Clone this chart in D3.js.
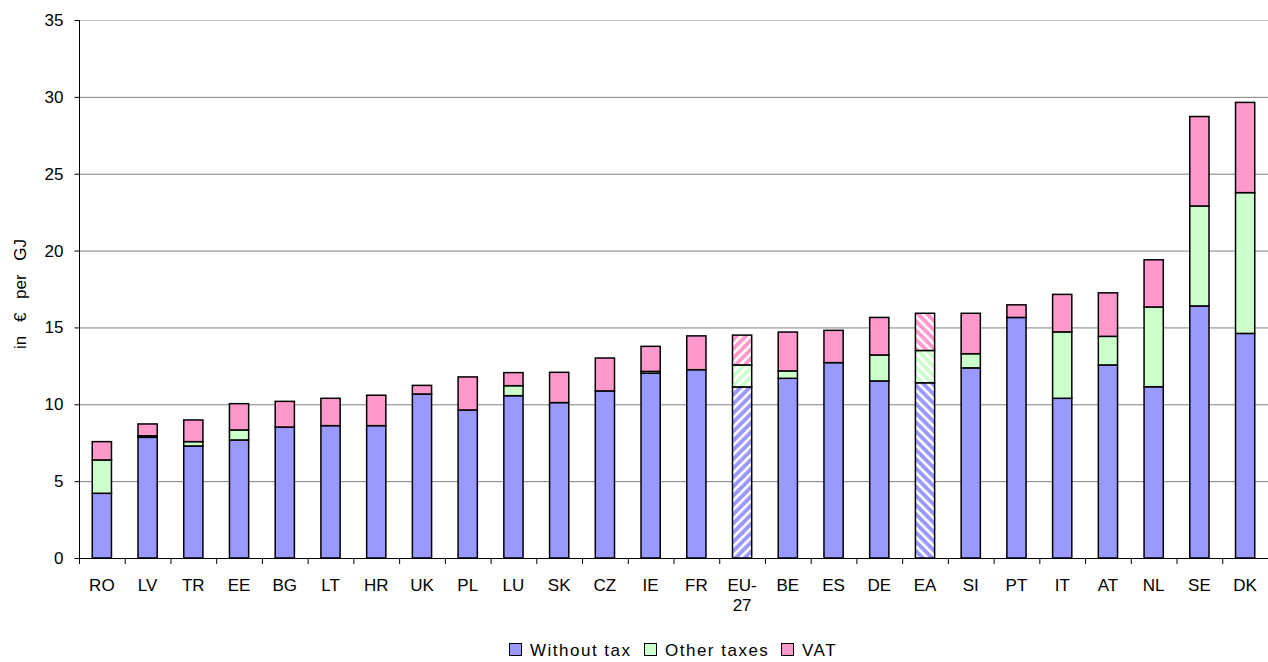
<!DOCTYPE html>
<html>
<head>
<meta charset="utf-8">
<script src="https://cdn.jsdelivr.net/npm/d3@7"></script>
<style>
  body { margin: 0; background: #fff; }
  svg { display: block; font-family: "Liberation Sans", Arial, sans-serif; }
</style>
</head>
<body>
<svg id="chart" width="1268" height="662"></svg>
<script>
// Datos
const countries = ['RO','LV','TR','EE','BG','LT','HR','UK','PL','LU','SK','CZ','IE','FR','EU-27','BE','ES','DE','EA','SI','PT','IT','AT','NL','SE','DK'];
const withoutTax = [4.21,7.85,7.29,7.68,8.52,8.61,8.61,10.67,9.63,10.56,10.11,10.87,12.02,12.25,11.13,11.69,12.71,11.52,11.40,12.37,15.65,10.39,12.56,11.14,16.40,14.61];
const otherTaxes = [2.17,0.10,0.28,0.65,0,0,0,0,0,0.65,0,0,0.12,0,1.43,0.48,0,1.69,2.10,0.92,0,4.32,1.86,5.19,6.50,9.16];
const vat        = [1.19,0.77,1.41,1.71,1.67,1.78,1.98,0.56,2.15,0.85,1.97,2.14,1.63,2.20,1.94,2.53,2.10,2.44,2.42,2.63,0.82,2.44,2.83,3.07,5.82,5.87];
const hatched = { 'EU-27': 'up', 'EA': 'down' };
const seriesNames = ['Without tax', 'Other taxes', 'VAT'];
const seriesColors = ['#9999ff', '#ccffcc', '#ff99cc'];
const yTicks = [0, 5, 10, 15, 20, 25, 30, 35];

const rows = countries.map((c, i) => ({ country: c, s0: withoutTax[i], s1: otherTaxes[i], s2: vat[i] }));

const svg = d3.select('#chart');
const m = { l: 79, r: 1268, t: 20, b: 558 };

const x = d3.scaleBand().domain(countries).range([m.l, m.r]).paddingInner(0.58).paddingOuter(0.29);
const y = d3.scaleLinear().domain([0, 35]).range([m.b, m.t]);

// Patrones rayados
const defs = svg.append('defs');
seriesColors.forEach((col, k) => {
  [['up', 45], ['down', -45]].forEach(([dir, ang]) => {
    const p = defs.append('pattern')
      .attr('id', `hatch-${k}-${dir}`)
      .attr('patternUnits', 'userSpaceOnUse')
      .attr('width', 6.5).attr('height', 6.5)
      .attr('patternTransform', `rotate(${ang})`);
    p.append('rect').attr('width', 6.5).attr('height', 6.5).attr('fill', col);
    p.append('rect').attr('width', 2.6).attr('height', 6.5).attr('fill', '#fff');
  });
});

// Rejilla
svg.append('g')
  .selectAll('line')
  .data(yTicks.filter(d => d > 0))
  .join('line')
  .attr('x1', m.l).attr('x2', m.r)
  .attr('y1', d => y(d) + 0.5).attr('y2', d => y(d) + 0.5)
  .attr('stroke', d => d === 35 ? '#c0c0c0' : '#808080')
  .attr('stroke-width', 1);

// Barras apiladas
const stack = d3.stack().keys(['s0', 's1', 's2']);
const layers = stack(rows);

layers.forEach((layer, k) => {
  svg.append('g')
    .selectAll('rect')
    .data(layer.filter(d => d[1] - d[0] > 0))
    .join('rect')
    .attr('x', d => x(d.data.country))
    .attr('width', x.bandwidth())
    .attr('y', d => y(d[1]))
    .attr('height', d => y(d[0]) - y(d[1]))
    .attr('fill', d => hatched[d.data.country] ? `url(#hatch-${k}-${hatched[d.data.country]})` : seriesColors[k])
    .attr('stroke', '#000')
    .attr('stroke-width', 1.5);
});

// Eje Y
const yAxis = svg.append('g')
  .attr('transform', `translate(${m.l + 0.5},0)`)
  .call(d3.axisLeft(y).tickValues(yTicks).tickSize(5).tickPadding(11));
yAxis.select('.domain').attr('stroke', '#000').attr('d', `M0,${m.t}V${m.b}`);
yAxis.selectAll('.tick line').attr('stroke', '#000');
yAxis.selectAll('.tick text').attr('font-size', 17).attr('fill', '#000')
  .attr('font-family', '"Liberation Sans", Arial, sans-serif');

// Eje X
svg.append('line')
  .attr('x1', m.l).attr('x2', m.r)
  .attr('y1', m.b + 0.5).attr('y2', m.b + 0.5)
  .attr('stroke', '#000');

const step = x.step();
svg.append('g')
  .selectAll('line')
  .data(d3.range(0, countries.length + 1))
  .join('line')
  .attr('x1', i => m.l + i * step + 0.5).attr('x2', i => m.l + i * step + 0.5)
  .attr('y1', m.b).attr('y2', m.b + 6)
  .attr('stroke', '#000');

const xl = svg.append('g')
  .selectAll('text')
  .data(countries)
  .join('text')
  .attr('x', d => x(d) + x.bandwidth() / 2)
  .attr('y', 591)
  .attr('text-anchor', 'middle')
  .attr('font-size', 17)
  .attr('fill', '#000');
xl.each(function (d) {
  const t = d3.select(this);
  if (d === 'EU-27') {
    t.append('tspan').attr('x', x(d) + x.bandwidth() / 2).text('EU-');
    t.append('tspan').attr('x', x(d) + x.bandwidth() / 2).attr('dy', 20).text('27');
  } else {
    t.text(d);
  }
});

// Título eje Y
svg.append('text')
  .attr('transform', 'translate(26,294) rotate(-90)')
  .attr('text-anchor', 'middle')
  .attr('font-size', 17)
  .attr('fill', '#000')
  .attr('word-spacing', '9px')
  .text('in € per GJ');

// Leyenda
const legX = [509, 644, 781];
const leg = svg.append('g');
seriesNames.forEach((name, k) => {
  leg.append('rect')
    .attr('x', legX[k] + 0.5).attr('y', 643.5)
    .attr('width', 12).attr('height', 12)
    .attr('fill', seriesColors[k])
    .attr('stroke', '#000').attr('stroke-width', 1);
  leg.append('text')
    .attr('x', legX[k] + 21).attr('y', 656)
    .attr('font-size', 17)
    .attr('letter-spacing', '1.5px')
    .attr('fill', '#000')
    .text(name);
});
</script>
</body>
</html>
